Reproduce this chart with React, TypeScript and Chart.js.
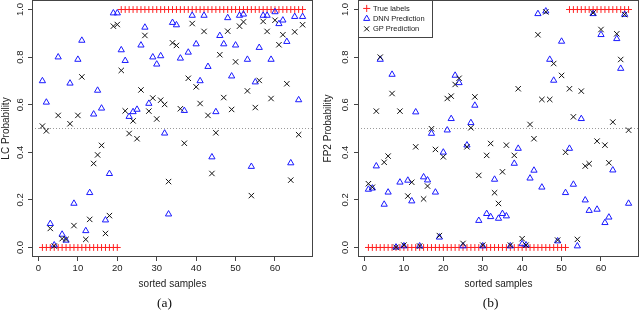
import React, { useEffect, useRef } from 'react';
import { Chart, registerables } from 'chart.js';

Chart.register(...registerables);

// ---------- data ----------
const xTicks = [0, 10, 20, 30, 40, 50, 60];
const yTicks = [0, 0.2, 0.4, 0.6, 0.8, 1.0];
const THRESHOLD = 0.5;
const FIRST_SAMPLE = 1;
const LAST_SAMPLE = 67;
const X_MIN = FIRST_SAMPLE - 0.04 * (LAST_SAMPLE - FIRST_SAMPLE);
const X_MAX = LAST_SAMPLE + 0.04 * (LAST_SAMPLE - FIRST_SAMPLE);
const Y_MIN = -0.04;
const Y_MAX = 1.04;

const lcTrue = [
  0, 0, 0, 0, 0, 0, 0, 0, 0, 0,
  0, 0, 0, 0, 0, 0, 0, 0, 0, 0,
  1, 1, 1, 1, 1, 1, 1, 1, 1, 1,
  1, 1, 1, 1, 1, 1, 1, 1, 1, 1,
  1, 1, 1, 1, 1, 1, 1, 1, 1, 1,
  1, 1, 1, 1, 1, 1, 1, 1, 1, 1,
  1, 1, 1, 1, 1, 1, 1,
];
const lcDnn = [
  0.70, 0.61, 0.10, 0.01, 0.80, 0.055, 0.03, 0.69, 0.185, 0.79,
  0.87, 0.07, 0.23, 0.56, 0.66, 0.585, 0.115, 0.31, 0.985, 0.985,
  0.83, 0.785, 0.55, 0.57, 0.58, 0.85, 0.925, 0.605, 0.80, 0.77,
  0.805, 0.48, 0.14, 0.945, 0.935, 0.795, 0.575, 0.82, 0.975, 0.855,
  0.70, 0.975, 0.76, 0.38, 0.57, 0.89, 0.855, 0.965, 0.72, 0.85,
  0.975, 0.98, 0.79, 0.34, 0.695, 0.84, 0.975, 0.975, 0.79, 0.99,
  0.94, 0.955, 0.865, 0.355, 0.97, 0.62, 0.97,
];
const lcGp = [
  0.51, 0.49, 0.08, 0.006, 0.555, 0.037, 0.034, 0.52, 0.092, 0.555,
  0.717, 0.034, 0.118, 0.353, 0.389, 0.429, 0.059, 0.134, 0.93, 0.937,
  0.744, 0.574, 0.479, 0.532, 0.457, 0.662, 0.891, 0.573, 0.628, 0.54,
  0.619, 0.601, 0.277, 0.86, 0.849, 0.583, 0.438, 0.711, 0.941, 0.675,
  0.605, 0.908, 0.555, 0.311, 0.482, 0.81, 0.63, 0.909, 0.58, 0.78,
  0.93, 0.948, 0.658, 0.218, 0.588, 0.702, 0.95, 0.908, 0.626, 0.955,
  0.852, 0.894, 0.688, 0.283, 0.906, 0.474, 0.936,
];

const fp2True = [
  0, 0, 0, 0, 0, 0, 0, 0, 0, 0,
  0, 0, 0, 0, 0, 0, 0, 0, 0, 0,
  0, 0, 0, 0, 0, 0, 0, 0, 0, 0,
  0, 0, 0, 0, 0, 0, 0, 0, 0, 0,
  0, 0, 0, 0, 0, 0, 0, 0, 0, 0,
  0, 1, 1, 1, 1, 1, 1, 1, 1, 1,
  1, 1, 1, 1, 1, 1, 1,
];
const fp2Dnn = [
  0.244, 0.249, 0.342, 0.79, 0.181, 0.232, 0.727, 0.001, 0.274, 0.006,
  0.282, 0.195, 0.569, 0.006, 0.296, 0.283, 0.479, 0.232, 0.043, 0.40,
  0.493, 0.541, 0.723, 0.692, 0.006, 0.43, 0.524, 0.597, 0.113, 0.006,
  0.142, 0.129, 0.286, 0.122, 0.142, 0.132, 0.006, 0.353, 0.416, 0.015,
  0.01, 0.291, 0.324, 0.982, 0.253, 0.993, 0.79, 0.702, 0.027, 0.866,
  0.23, 0.416, 0.265, 0.006, 0.541, 0.199, 0.155, 0.982, 0.16, 0.894,
  0.104, 0.127, 0.325, 0.877, 0.752, 0.979, 0.185,
];
const fp2Gp = [
  0.268, 0.253, 0.573, 0.80, 0.358, 0.384, 0.647, 0.001, 0.573, 0.01,
  0.216, 0.274, 0.423, 0.006, 0.204, 0.258, 0.499, 0.412, 0.05, 0.381,
  0.626, 0.636, 0.685, 0.711, 0.017, 0.423, 0.503, 0.633, 0.303, 0.01,
  0.387, 0.437, 0.23, 0.185, 0.318, 0.43, 0.01, 0.387, 0.667, 0.037,
  0.01, 0.517, 0.457, 0.894, 0.622, 0.99, 0.622, 0.773, 0.031, 0.723,
  0.40, 0.667, 0.549, 0.034, 0.657, 0.342, 0.352, 0.986, 0.447, 0.916,
  0.43, 0.356, 0.527, 0.898, 0.79, 0.979, 0.493,
];

const seriesLabels = ['True labels', 'DNN Prediction', 'GP Prediction'];

// ---------- styling ----------
const SANS = '"Liberation Sans", Arial, Helvetica, sans-serif';
const SERIF = '"Liberation Serif", "Times New Roman", serif';
const TEXT = '#222';
const AXIS = '#444';

type PanelProps = {
  left: number;
  trueVals: number[];
  dnnVals: number[];
  gpVals: number[];
  yTitle: string;
  caption: string;
  captionX: number;
  yAxisWidth: number;
  padRight: number;
  yTitlePad: number;
  yTickPad: number;
  showLegend: boolean;
};

const framePlugin = {
  id: 'frameAndCaption',
  afterLayout(chart: any) {
    const lg = chart.legend;
    if (lg && lg.options.display) {
      lg.left += 3.5;
      lg.top += 2;
    }
  },
  afterDraw(chart: any, _args: any, opts: any) {
    const { ctx, chartArea } = chart;
    ctx.save();
    ctx.strokeStyle = AXIS;
    ctx.lineWidth = 1;
    const l = Math.round(chartArea.left);
    const t = Math.round(chartArea.top);
    const r = Math.round(chartArea.right);
    const b = Math.round(chartArea.bottom);
    ctx.strokeRect(l + 0.5, t + 0.5, r - l - 1, b - t - 1);

    // legend frame
    const lg = chart.legend;
    if (lg && lg.options.display && lg.legendHitBoxes && lg.legendHitBoxes.length) {
      const boxes = lg.legendHitBoxes;
      const right = Math.max(...boxes.map((h: any) => h.left + h.width)) + 7;
      const bottom = Math.max(...boxes.map((h: any) => h.top + h.height)) + 4.5;
      ctx.strokeRect(l + 0.5, t + 0.5, Math.round(right - l), Math.round(bottom - t));
    }

    // caption
    ctx.fillStyle = '#111';
    ctx.font = `13.5px ${SERIF}`;
    ctx.textAlign = 'center';
    ctx.textBaseline = 'middle';
    ctx.fillText(opts.caption, opts.x, opts.y);
    ctx.restore();
  },
};

function Panel(p: PanelProps) {
  const ref = useRef<HTMLCanvasElement>(null);
  useEffect(() => {
    const toPoints = (vals: number[]) => vals.map((v, i) => ({ x: i + FIRST_SAMPLE, y: v }));
    const gridOpts = {
      display: true,
      drawOnChartArea: false,
      drawTicks: true,
      tickLength: 4,
      color: AXIS,
      lineWidth: 1,
    };
    const chart = new Chart(ref.current as HTMLCanvasElement, {
      type: 'scatter',
      data: {
        datasets: [
          {
            label: seriesLabels[0],
            data: toPoints(p.trueVals),
            pointStyle: 'cross',
            pointRadius: 3.4,
            pointHoverRadius: 3.4,
            borderColor: '#ff2020',
            backgroundColor: '#ff2020',
            borderWidth: 1,
            order: 2,
          },
          {
            label: seriesLabels[1],
            data: toPoints(p.dnnVals),
            pointStyle: 'triangle',
            pointRadius: 3.6,
            pointHoverRadius: 3.6,
            borderColor: '#1a1aff',
            backgroundColor: 'rgba(0,0,0,0)',
            borderWidth: 1,
            order: 1,
          },
          {
            label: seriesLabels[2],
            data: toPoints(p.gpVals),
            pointStyle: 'crossRot',
            pointRadius: 3.8,
            pointHoverRadius: 3.8,
            borderColor: '#111',
            backgroundColor: '#111',
            borderWidth: 1,
            order: 0,
          },
          {
            label: 'threshold',
            data: [
              { x: X_MIN, y: THRESHOLD },
              { x: X_MAX, y: THRESHOLD },
            ],
            showLine: true,
            borderColor: '#9a9a9a',
            backgroundColor: '#9a9a9a',
            borderDash: [1, 2],
            borderWidth: 1,
            pointRadius: 0,
            pointHoverRadius: 0,
            order: 3,
          },
        ] as any,
      },
      options: {
        animation: false,
        responsive: false,
        devicePixelRatio: 1,
        events: [],
        layout: {
          autoPadding: false,
          padding: { left: 0, top: 0, right: p.padRight, bottom: 0 },
        },
        plugins: {
          legend: {
            display: p.showLegend,
            position: 'chartArea' as any,
            align: 'start',
            labels: {
              usePointStyle: true,
              boxWidth: 5,
              boxHeight: 5,
              padding: 2.7,
              color: TEXT,
              font: { family: SANS, size: 7.5 },
              filter: (item: any) => item.datasetIndex < 3,
              sort: (a: any, b: any) => a.datasetIndex - b.datasetIndex,
            },
          },
          tooltip: { enabled: false },
          frameAndCaption: { caption: p.caption, x: p.captionX, y: 303.5 },
        } as any,
        scales: {
          x: {
            type: 'linear',
            min: X_MIN,
            max: X_MAX,
            afterBuildTicks: (s: any) => {
              s.ticks = xTicks.map((value) => ({ value }));
            },
            afterFit: (s: any) => {
              s.height = 54;
              s.paddingLeft = 0;
              s.paddingRight = 0;
            },
            ticks: {
              autoSkip: false,
              maxRotation: 0,
              minRotation: 0,
              padding: 2,
              color: TEXT,
              font: { family: SANS, size: 9.5 },
              callback: (v: any) => String(v),
            },
            grid: gridOpts,
            border: { display: false },
            title: {
              display: true,
              text: 'sorted samples',
              color: TEXT,
              font: { family: SANS, size: 10, lineHeight: 1.2 },
              padding: { top: 0, bottom: 21 },
            },
          },
          y: {
            type: 'linear',
            min: Y_MIN,
            max: Y_MAX,
            afterBuildTicks: (s: any) => {
              s.ticks = yTicks.map((value) => ({ value }));
            },
            afterFit: (s: any) => {
              s.width = p.yAxisWidth;
              s.paddingTop = 0;
              s.paddingBottom = 0;
            },
            ticks: {
              autoSkip: false,
              minRotation: 90,
              maxRotation: 90,
              crossAlign: 'center',
              padding: p.yTickPad,
              color: TEXT,
              font: { family: SANS, size: 9.5 },
              callback: (v: any) => Number(v).toFixed(1),
            },
            grid: gridOpts,
            border: { display: false },
            title: {
              display: true,
              text: p.yTitle,
              color: TEXT,
              font: { family: SANS, size: 10, lineHeight: 1.2 },
              padding: { top: p.yTitlePad, bottom: 0 },
            },
          },
        } as any,
      },
      plugins: [framePlugin],
    });
    return () => chart.destroy();
  }, []);

  return (
    <canvas
      ref={ref}
      width={320}
      height={311}
      style={{ position: 'absolute', left: p.left, top: 0, width: 320, height: 311, display: 'block' }}
    />
  );
}

export default function App() {
  return (
    <div style={{ position: 'absolute', left: 0, top: 0, width: 640, height: 311, background: '#fff', overflow: 'hidden' }}>
      <Panel
        left={0}
        trueVals={lcTrue}
        dnnVals={lcDnn}
        gpVals={lcGp}
        yTitle="LC Probability"
        caption="(a)"
        captionX={164.5}
        yAxisWidth={32}
        padRight={7}
        yTitlePad={0}
        yTickPad={0.7}
        showLegend={false}
      />
      <Panel
        left={320}
        trueVals={fp2True}
        dnnVals={fp2Dnn}
        gpVals={fp2Gp}
        yTitle="FP2 Probability"
        caption="(b)"
        captionX={170.5}
        yAxisWidth={38}
        padRight={1}
        yTitlePad={2.3}
        yTickPad={2.2}
        showLegend={true}
      />
    </div>
  );
}
